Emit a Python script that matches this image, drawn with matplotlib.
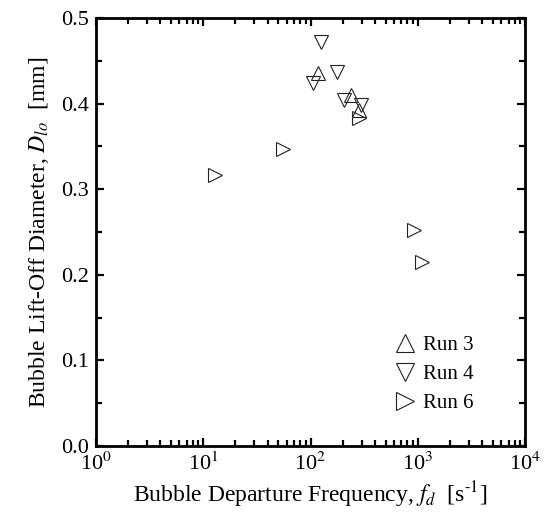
import matplotlib
matplotlib.use("Agg")
import matplotlib.pyplot as plt
from matplotlib.ticker import LogLocator, MultipleLocator, NullFormatter

plt.rcParams['font.family'] = ['Liberation Serif', 'DejaVu Serif']
plt.rcParams['mathtext.fontset'] = 'stix'

# data
run3_f = [117, 240, 282]
run3_d = [0.436, 0.410, 0.393]
run4_f = [126, 105, 178, 205, 298]
run4_d = [0.472, 0.424, 0.437, 0.404, 0.398]
run6_f = [12.9, 56, 285, 925, 1090]
run6_d = [0.317, 0.347, 0.383, 0.252, 0.215]

fig = plt.figure(figsize=(5.54, 5.15), dpi=100)
ax = fig.add_axes([0.173, 0.134, 0.775, 0.831])

ms = 10
ax.plot(run3_f, run3_d, '^', ms=ms, mfc='none', mec='#222222', mew=0.8, label='Run 3')
ax.plot(run4_f, run4_d, 'v', ms=ms, mfc='none', mec='#222222', mew=0.8, label='Run 4')
ax.plot(run6_f, run6_d, '>', ms=ms, mfc='none', mec='#222222', mew=0.8, label='Run 6')

ax.set_xscale('log')
ax.set_xlim(1, 1e4)
ax.set_ylim(0, 0.5)
ax.xaxis.set_minor_locator(LogLocator(base=10, subs=range(2, 10), numticks=20))
ax.xaxis.set_minor_formatter(NullFormatter())
ax.set_xticks([1, 10, 100, 1000, 10000])
ax.set_xticklabels(['10$^0$', '10$^1$', '10$^2$', '10$^3$', '10$^4$'])
ax.yaxis.set_major_locator(MultipleLocator(0.1))
ax.yaxis.set_minor_locator(MultipleLocator(0.05))
ax.yaxis.set_major_formatter(plt.FormatStrFormatter('%.1f'))

for s in ax.spines.values():
    s.set_linewidth(2)
ax.tick_params(which='both', direction='in', top=True, right=True, width=1.6, labelsize=16)
ax.tick_params(which='major', length=6, pad=5)
ax.tick_params(which='minor', length=4)

ax.set_xlabel('Bubble Departure Frequency, $f_d$  [s$^{\\text{-1}}$]', fontsize=17, labelpad=3)
ax.set_ylabel('Bubble Lift-Off Diameter, $D_{lo}$  [mm]', fontsize=17, labelpad=7)

leg = ax.legend(loc='upper left', bbox_to_anchor=(0.69, 0.258), frameon=False, fontsize=15,
                handletextpad=0.3, labelspacing=0.45, handlelength=1.2,
                borderpad=0, borderaxespad=0, markerscale=1.3)

fig.savefig('out.png', dpi=100)
